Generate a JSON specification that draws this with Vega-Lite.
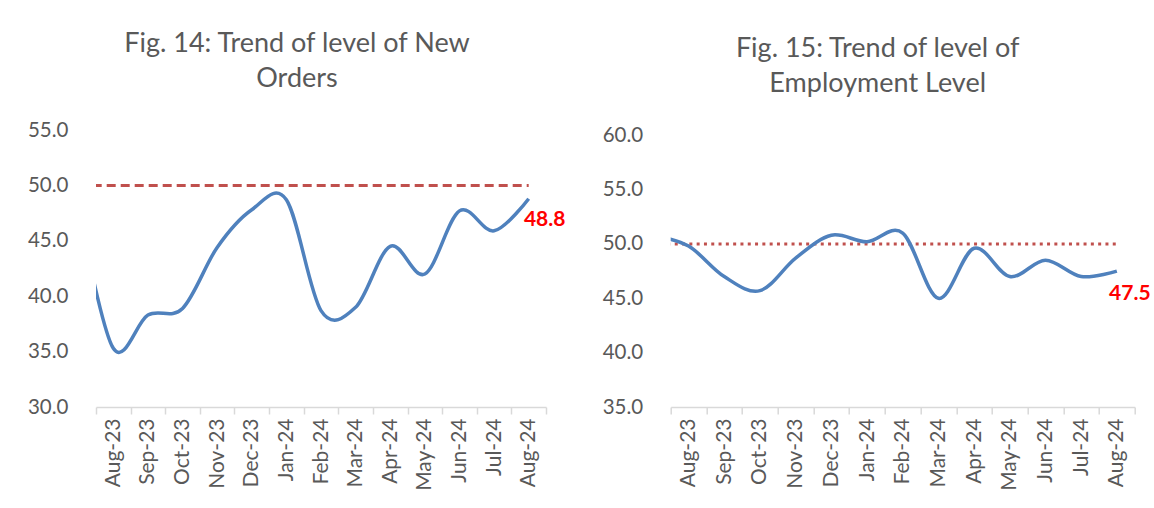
{
  "$schema": "https://vega.github.io/schema/vega-lite/v6.json",
  "background": "white",
  "padding": {"left": 27, "top": 30, "right": 0, "bottom": 0},
  "bounds": "flush",
  "spacing": 124.7,
  "config": {
    "font": "Lato",
    "view": {"stroke": null},
    "title": {"font": "Lato", "fontSize": 27, "fontWeight": "normal", "color": "#595959", "lineHeight": 35, "anchor": "middle"},
    "axisX": {
      "labelAngle": -90, "labelAlign": "right", "labelBaseline": "middle",
      "labelFont": "Lato", "labelFontSize": 21, "labelColor": "#595959",
      "labelOverlap": false, "labelFlush": false, "labelBound": false,
      "tickSize": 7, "tickColor": "#d9d9d9", "tickWidth": 1.5,
      "domainColor": "#d9d9d9", "domainWidth": 1.5,
      "grid": false, "title": null
    },
    "axisY": {
      "format": ".1f", "domain": false, "ticks": false, "grid": false, "title": null,
      "labelFont": "Lato", "labelFontSize": 20.5, "labelColor": "#595959", "labelPadding": 28
    }
  },
  "datasets": {
    "orders": [
      {"month": "Jul-23", "i": 0, "value": 47.9, "ref": 50},
      {"month": "Aug-23", "i": 1, "value": 35.3, "ref": 50},
      {"month": "Sep-23", "i": 2, "value": 38.3, "ref": 50},
      {"month": "Oct-23", "i": 3, "value": 38.9, "ref": 50},
      {"month": "Nov-23", "i": 4, "value": 44.4, "ref": 50},
      {"month": "Dec-23", "i": 5, "value": 47.8, "ref": 50},
      {"month": "Jan-24", "i": 6, "value": 48.7, "ref": 50},
      {"month": "Feb-24", "i": 7, "value": 38.7, "ref": 50},
      {"month": "Mar-24", "i": 8, "value": 39.0, "ref": 50},
      {"month": "Apr-24", "i": 9, "value": 44.5, "ref": 50},
      {"month": "May-24", "i": 10, "value": 42.0, "ref": 50},
      {"month": "Jun-24", "i": 11, "value": 47.7, "ref": 50},
      {"month": "Jul-24", "i": 12, "value": 45.9, "ref": 50},
      {"month": "Aug-24", "i": 13, "value": 48.8, "ref": 50}
    ],
    "employment": [
      {"month": "Jul-23", "i": 0, "value": 50.8, "ref": 50},
      {"month": "Aug-23", "i": 1, "value": 49.8, "ref": 50},
      {"month": "Sep-23", "i": 2, "value": 47.0, "ref": 50},
      {"month": "Oct-23", "i": 3, "value": 45.7, "ref": 50},
      {"month": "Nov-23", "i": 4, "value": 48.7, "ref": 50},
      {"month": "Dec-23", "i": 5, "value": 50.8, "ref": 50},
      {"month": "Jan-24", "i": 6, "value": 50.2, "ref": 50},
      {"month": "Feb-24", "i": 7, "value": 51.0, "ref": 50},
      {"month": "Mar-24", "i": 8, "value": 45.0, "ref": 50},
      {"month": "Apr-24", "i": 9, "value": 49.6, "ref": 50},
      {"month": "May-24", "i": 10, "value": 47.0, "ref": 50},
      {"month": "Jun-24", "i": 11, "value": 48.5, "ref": 50},
      {"month": "Jul-24", "i": 12, "value": 47.0, "ref": 50},
      {"month": "Aug-24", "i": 13, "value": 47.5, "ref": 50}
    ]
  },
  "hconcat": [
    {
      "width": 450,
      "height": 277,
      "data": {"name": "orders"},
      "title": {"text": ["Fig. 14: Trend of level of New", "Orders"], "dx": -24, "offset": 27},
      "resolve": {"axis": {"x": "independent"}},
      "layer": [
        {
          "mark": {"type": "line", "color": "#c0504d", "strokeWidth": 3, "strokeDash": [9, 5], "clip": true},
          "encoding": {
            "x": {"field": "i", "type": "quantitative", "scale": {"domain": [0.5, 13.5], "nice": false, "zero": false},
                  "axis": {"orient": "bottom", "values": [0.5, 1.5, 2.5, 3.5, 4.5, 5.5, 6.5, 7.5, 8.5, 9.5, 10.5, 11.5, 12.5, 13.5], "labels": false, "ticks": true, "domain": true}},
            "y": {"field": "ref", "type": "quantitative", "scale": {"domain": [30, 55], "nice": false, "zero": false}, "axis": {"values": [30, 35, 40, 45, 50, 55]}}
          }
        },
        {
          "mark": {"type": "line", "interpolate": "cardinal", "tension": 0, "color": "#4f81bd", "strokeWidth": 3.5, "clip": true},
          "encoding": {
            "x": {"field": "i", "type": "quantitative",
                  "axis": {"orient": "bottom", "values": [1, 2, 3, 4, 5, 6, 7, 8, 9, 10, 11, 12, 13], "ticks": false, "domain": false, "labelPadding": 11,
                           "labelExpr": "['Jul-23','Aug-23','Sep-23','Oct-23','Nov-23','Dec-23','Jan-24','Feb-24','Mar-24','Apr-24','May-24','Jun-24','Jul-24','Aug-24'][datum.value]"}},
            "y": {"field": "value", "type": "quantitative"}
          }
        },
        {
          "transform": [{"filter": "datum.i == 13"}],
          "mark": {"type": "text", "color": "#ff0000", "fontWeight": "bold", "fontSize": 21, "font": "Lato", "dx": 16, "dy": 21, "align": "center", "baseline": "middle"},
          "encoding": {
            "x": {"field": "i", "type": "quantitative", "axis": null},
            "y": {"field": "value", "type": "quantitative"},
            "text": {"field": "value", "type": "quantitative", "format": ".1f"}
          }
        }
      ]
    },
    {
      "width": 464,
      "height": 277,
      "data": {"name": "employment"},
      "title": {"text": ["Fig. 15: Trend of level of", "Employment Level"], "dx": -25, "offset": 27},
      "resolve": {"axis": {"x": "independent"}},
      "layer": [
        {
          "mark": {"type": "line", "color": "#c0504d", "strokeWidth": 3, "strokeDash": [3, 4.3], "clip": true},
          "encoding": {
            "x": {"field": "i", "type": "quantitative", "scale": {"domain": [0.5, 13.5], "nice": false, "zero": false},
                  "axis": {"orient": "bottom", "values": [0.5, 1.5, 2.5, 3.5, 4.5, 5.5, 6.5, 7.5, 8.5, 9.5, 10.5, 11.5, 12.5, 13.5], "labels": false, "ticks": true, "domain": true}},
            "y": {"field": "ref", "type": "quantitative", "scale": {"domain": [35, 60.48], "nice": false, "zero": false}, "axis": {"values": [35, 40, 45, 50, 55, 60]}}
          }
        },
        {
          "mark": {"type": "line", "interpolate": "cardinal", "tension": 0, "color": "#4f81bd", "strokeWidth": 3.5, "clip": true},
          "encoding": {
            "x": {"field": "i", "type": "quantitative",
                  "axis": {"orient": "bottom", "values": [1, 2, 3, 4, 5, 6, 7, 8, 9, 10, 11, 12, 13], "ticks": false, "domain": false, "labelPadding": 11,
                           "labelExpr": "['Jul-23','Aug-23','Sep-23','Oct-23','Nov-23','Dec-23','Jan-24','Feb-24','Mar-24','Apr-24','May-24','Jun-24','Jul-24','Aug-24'][datum.value]"}},
            "y": {"field": "value", "type": "quantitative"}
          }
        },
        {
          "transform": [{"filter": "datum.i == 13"}],
          "mark": {"type": "text", "color": "#ff0000", "fontWeight": "bold", "fontSize": 21, "font": "Lato", "dx": 13, "dy": 23, "align": "center", "baseline": "middle"},
          "encoding": {
            "x": {"field": "i", "type": "quantitative", "axis": null},
            "y": {"field": "value", "type": "quantitative"},
            "text": {"field": "value", "type": "quantitative", "format": ".1f"}
          }
        }
      ]
    }
  ]
}
